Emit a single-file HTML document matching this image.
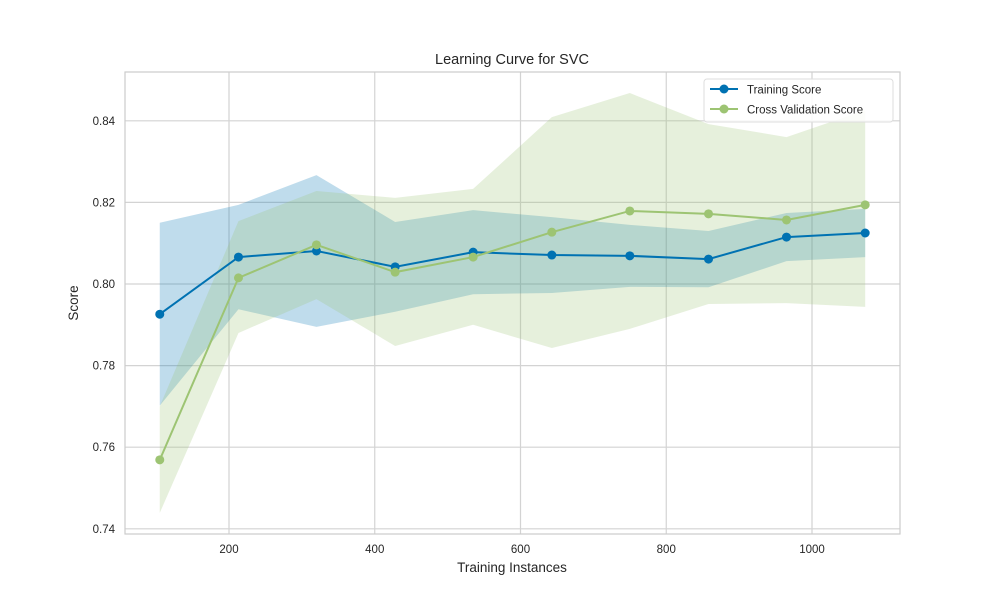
<!DOCTYPE html>
<html><head><meta charset="utf-8"><style>
body{margin:0;background:#fff;}
svg text{font-family:"Liberation Sans",sans-serif;fill:#262626;}
</style></head><body>
<svg id="chart" width="1000" height="600" xmlns="http://www.w3.org/2000/svg">
<rect width="1000" height="600" fill="#fff"/>
<g id="grid"></g>
<g id="bands"></g>
<g id="lines"></g>
<rect x="125" y="72" width="775" height="462" fill="none" stroke="#cccccc" stroke-width="1.2"/>
<g id="ticks"></g>
<text x="512" y="64" text-anchor="middle" font-size="14.5">Learning Curve for SVC</text>
<text x="512" y="572" text-anchor="middle" font-size="13.5">Training Instances</text>
<text transform="translate(78,303) rotate(-90)" text-anchor="middle" font-size="13.5">Score</text>
<g>
<rect x="704" y="79" width="189" height="43" fill="#fff" fill-opacity="0.85" stroke="#dddddd" rx="3"/>
<g>
<line x1="710" y1="89" x2="738" y2="89" stroke="#0072B2" stroke-width="2"/><circle cx="724" cy="89" r="4.5" fill="#0072B2"/>
<text x="747" y="93.5" font-size="11.5">Training Score</text></g>
<g>
<line x1="710" y1="109" x2="738" y2="109" stroke="#9dc473" stroke-width="2"/><circle cx="724" cy="109" r="4.5" fill="#9dc473"/>
<text x="747" y="113.5" font-size="11.5">Cross Validation Score</text></g>
</g>
</svg>
<script>
const trainSizes=[105,213,320,428,535,643,750,858,965,1073];
const trainMean=[0.7926,0.8066,0.8081,0.8042,0.8078,0.8071,0.8069,0.8061,0.8115,0.8125];
const trainUpper=[0.8150,0.8194,0.8267,0.8152,0.8181,0.8164,0.8145,0.8130,0.8174,0.8184];
const trainLower=[0.7702,0.7938,0.7895,0.7932,0.7975,0.7978,0.7993,0.7992,0.8056,0.8066];
const cvMean=[0.7569,0.8015,0.8096,0.8029,0.8066,0.8127,0.8179,0.8172,0.8157,0.8194];
const cvUpper=[0.7700,0.8154,0.8228,0.8211,0.8233,0.8409,0.8468,0.8392,0.8360,0.8426];
const cvLower=[0.7439,0.7880,0.7963,0.7848,0.7900,0.7843,0.7890,0.7951,0.7953,0.7944];
const xTicks=[200,400,600,800,1000];
const yTicks=[0.74,0.76,0.78,0.80,0.82,0.84];
const NS="http://www.w3.org/2000/svg";
const X=v=>229+(v-200)*(583/800);
const Y=v=>284-(v-0.80)*(81.6/0.02);
function mk(tag,attrs,parent){const e=document.createElementNS(NS,tag);for(const k in attrs)e.setAttribute(k,attrs[k]);document.getElementById(parent).appendChild(e);return e;}
xTicks.forEach(t=>{
  const g=mk('line',{x1:X(t),x2:X(t),y1:72,y2:534,stroke:'#d3d3d3','stroke-width':1.2},'grid');
  
  
  const l=mk('text',{x:X(t),y:553,'text-anchor':'middle','font-size':11.5},'ticks');l.textContent=t;
  
  
});
yTicks.forEach(t=>{
  const g=mk('line',{x1:125,x2:900,y1:Y(t),y2:Y(t),stroke:'#d3d3d3','stroke-width':1.2},'grid');
  
  
  const l=mk('text',{x:115,y:Y(t)+4,'text-anchor':'end','font-size':11.5},'ticks');l.textContent=t.toFixed(2);
  
  
});
function band(up,lo,color,name){
  let d='M'+trainSizes.map((s,i)=>X(s)+','+Y(up[i])).join('L');
  d+='L'+trainSizes.map((s,i)=>[s,i]).reverse().map(([s,i])=>X(s)+','+Y(lo[i])).join('L')+'Z';
  const p=mk('path',{d:d,fill:color,'fill-opacity':0.25},'bands');
  
  
}
band(trainUpper,trainLower,'#0072B2','training-score-band');
band(cvUpper,cvLower,'#9dc473','cv-score-band');
function series(vals,color,name){
  const l=mk('polyline',{points:trainSizes.map((s,i)=>X(s)+','+Y(vals[i])).join(' '),fill:'none',stroke:color,'stroke-width':2},'lines');
  
  
  vals.forEach((v,i)=>{
    const c=mk('circle',{cx:X(trainSizes[i]),cy:Y(v),r:4.5,fill:color},'lines');
    
    
  });
}
series(trainMean,'#0072B2','training-score');
series(cvMean,'#9dc473','cv-score');
</script>
</body></html>
